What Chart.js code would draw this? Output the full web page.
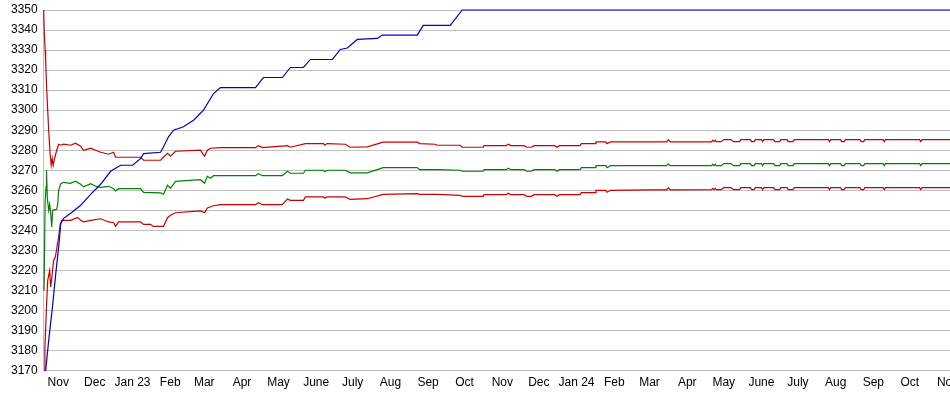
<!DOCTYPE html>
<html>
<head>
<meta charset="utf-8">
<script src="https://cdn.jsdelivr.net/npm/chart.js@4/dist/chart.umd.min.js"></script>
<style>
  body { margin: 0; background: #fff; }
  #wrap { width: 950px; height: 395px; }
</style>
</head>
<body>
<div id="wrap"><canvas id="myChart" width="950" height="395"></canvas></div>
<script>
// x = days since 20 Oct 2022, y = value
let tickDays=[12,42,73,104,132,163,193,224,254,285,316,346,377,407,438,469,498,529,559,590,620,651,682,712,743];
let tickLabels=["Nov","Dec","Jan 23","Feb","Mar","Apr","May","June","July","Aug","Sep","Oct",
                "Nov","Dec","Jan 24","Feb","Mar","Apr","May","June","July","Aug","Sep","Oct","Nov"];

let blueLine=[[1.6,3170],[4.4,3186.7],[7.2,3201.7],[9.9,3218.3],[12.6,3233.3],[14,3243.3],[16.4,3246],
  [22.2,3248.5],[30.4,3252.5],[38.6,3258],[46.8,3263],[55,3269.5],[59.1,3271],[63.2,3272.5],[73.1,3272.5],
  [79.6,3275.8],[82.1,3278.3],[96.1,3279],[98.5,3281.7],[102.6,3286.7],[106.7,3290],[114.9,3291.7],
  [123.2,3295],[131.4,3300],[139.6,3308.3],[145.3,3311.3],[174.1,3311.3],[180.6,3316.3],[196.2,3316.3],
  [202.8,3321.3],[213.5,3321.3],[219.2,3325.3],[237.3,3325.3],[243.8,3330.3],[249.6,3331],[257.8,3335.3],
  [274.2,3335.8],[278.3,3337.5],[307.1,3337.5],[312,3342.3],[334.2,3342.3],[344,3350],[745,3350]];

let upperRed=[[0,3350],[0.4,3340],[1.2,3330],[1.6,3325],[2.5,3310],[3.3,3300],[4.1,3290],[5.3,3278],
  [6.2,3272.5],[7,3276],[7.8,3272.5],[9,3276],[10.7,3280],[12.3,3283],[14,3282.5],[16.4,3283],[22.2,3282.5],
  [26,3283.5],[30.4,3282],[32.8,3280],[38.6,3281],[42.7,3280],[46.8,3279],[53.4,3278],[57.5,3279],
  [59.1,3276.5],[79.6,3276.5],[82.1,3275],[96.1,3275],[98.5,3276.5],[101.8,3278.5],[104.3,3277],
  [108.4,3279.5],[128.9,3280],[132.2,3277],[134.6,3280],[137.1,3281],[145.3,3281.3],[174.1,3281.3],
  [176.5,3282.3],[179.8,3281.3],[200.3,3282.3],[202.8,3281.5],[215.1,3283.3],[230,3283.3],[231,3282.5],
  [233,3283.3],[247.9,3283],[252,3281.5],[266,3281.7],[279.1,3284],[307.1,3284],[309,3283.3],[321.8,3283],
  [323.5,3282.5],[342.4,3282.5],[344,3281.5],[361.2,3281.5],[362,3282.3],[380,3282.3],[382,3283],[384,3282.3],
  [395,3282.3],[397,3281.5],[401,3281.5],[403,3282.3],[420,3282.3],[422,3281.5],[424,3282.3],[440.9,3282.3],
  [442,3283.3],[453.2,3283.3],[454,3284.2],[462,3284.2],[463,3283.3],[466,3284.2],[498,3284.2],[512,3284.2],
  [513.5,3285.2],[515,3284.2],[549,3284.2],[550,3285],[551,3284.3],[552,3285],[553,3284.3],[557,3284.3],
  [559,3285.3],[565,3285.3],[567,3284.3],[572,3284.3],[573,3285.3],[581,3285.3],[582,3284.3],[584,3284.3],
  [585,3285.3],[590,3285.3],[591,3284.3],[592,3285.3],[600,3285.3],[601,3284.3],[605,3284.3],[606,3285.3],
  [611,3285.3],[612,3284.3],[616,3284.3],[617,3285.3],[645,3285.3],[646,3284.3],[647,3285.3],[655,3285.3],
  [656,3284.3],[658,3284.3],[659,3285.3],[671,3285.3],[672,3284.3],[674,3284.3],[675,3285.3],[690,3285.3],
  [691,3284.3],[692,3285.3],[720,3285.3],[721,3284.3],[722,3285.3],[745,3285.3]];

let greenLine=[[0.3,3210],[1.2,3255],[2,3262],[2.3,3270],[3,3256],[4.1,3250],[4.9,3253],[5.7,3249],
  [6.6,3241.7],[7.4,3250],[10.7,3250.5],[11.5,3253],[12.3,3260],[14,3263.3],[16.4,3264],[22,3263.5],
  [26,3264.5],[30.4,3263],[32.8,3261.7],[38.6,3263.3],[42.7,3262],[46.8,3261.5],[53.4,3262],[57.5,3260.8],
  [59.1,3259.7],[61.6,3260.8],[79.6,3260.8],[82.1,3259],[96.1,3258.7],[98.5,3258],[101.8,3262.5],
  [104.3,3261],[108.4,3264.5],[128.9,3265.3],[132.2,3263.5],[134.6,3267],[137.1,3266],[139.6,3267.3],
  [174.1,3267.3],[176.5,3268.3],[179.8,3267.3],[196.2,3267.3],[200.3,3269.5],[202.8,3268.5],[213.5,3268.5],
  [215.1,3270],[230,3270],[231,3269.3],[233,3270],[247.9,3270],[252,3268.7],[266,3268.7],[279.1,3271.3],
  [307.1,3271.3],[309,3270.3],[323.5,3270.3],[342.4,3270],[344,3269.5],[361.2,3269.5],[362,3270.3],
  [380,3270.3],[382,3271],[384,3270.3],[395,3270.3],[397,3269.5],[401,3269.5],[403,3270.3],[420,3270.3],
  [422,3269.5],[424,3270.3],[440.9,3270.3],[442,3271.3],[453.2,3271.3],[454,3272.3],[462,3272.3],
  [463,3271.3],[466,3272.3],[498,3272.3],[512,3272.3],[513.5,3273.2],[515,3272.3],[549,3272.3],[550,3273],
  [551,3272.3],[552,3273],[553,3272.3],[557,3272.3],[559,3273.3],[565,3273.3],[567,3272.3],[572,3272.3],
  [573,3273.3],[581,3273.3],[582,3272.3],[584,3272.3],[585,3273.3],[590,3273.3],[591,3272.3],[592,3273.3],
  [600,3273.3],[601,3272.3],[605,3272.3],[606,3273.3],[611,3273.3],[612,3272.3],[616,3272.3],[617,3273.3],
  [645,3273.3],[646,3272.3],[647,3273.3],[655,3273.3],[656,3272.3],[658,3272.3],[659,3273.3],[671,3273.3],
  [672,3272.3],[674,3272.3],[675,3273.3],[690,3273.3],[691,3272.3],[692,3273.3],[720,3273.3],[721,3272.3],
  [722,3273.3],[745,3273.3]];

let lowerRed=[[0.3,3170],[1,3181.7],[2.5,3205],[3.3,3215],[4.9,3220],[5.7,3211.7],[6.6,3216],[8.2,3225],
  [9.6,3226.7],[10.9,3231.7],[12.3,3236.7],[13.7,3243.3],[15,3245],[22.2,3245],[28,3246.5],[30.4,3245],
  [32.8,3244.2],[38.6,3245],[46.8,3245.8],[53.4,3244.2],[57.5,3243.8],[59.1,3242],[61.6,3244.2],
  [79.6,3244.2],[82.1,3243],[87.8,3243],[90,3242],[98.5,3242],[101.8,3246.3],[104.3,3247.5],[108.4,3248.8],
  [128.9,3249.7],[132.2,3248.8],[134.6,3251.2],[139.6,3252.3],[145.3,3252.8],[174.1,3252.8],[176.5,3253.8],
  [179.8,3252.8],[196.2,3252.8],[200.3,3255.7],[202.8,3255],[213.5,3255],[215.1,3256.7],[230,3256.7],
  [231,3256],[233,3256.7],[247.9,3256.7],[252,3255.5],[266,3255.8],[279.1,3258],[307.1,3258.3],[309,3258],
  [323.5,3258],[342.4,3257.5],[344,3257],[361.2,3257],[362,3257.8],[380,3257.8],[382,3258.5],[384,3257.8],
  [395,3257.8],[397,3257],[401,3257],[403,3257.8],[420,3257.8],[422,3257],[424,3257.8],[440.9,3257.8],
  [442,3258.8],[453.2,3258.8],[454,3260],[462,3260],[463,3259],[466,3260],[498,3260.2],[512,3260.2],
  [513.5,3261.2],[515,3260.2],[549,3260.3],[550,3261],[551,3260.3],[552,3261],[553,3260.3],[557,3260.3],
  [559,3261.3],[565,3261.3],[567,3260.3],[572,3260.3],[573,3261.3],[581,3261.3],[582,3260.3],[584,3260.3],
  [585,3261.3],[590,3261.3],[591,3260.3],[592,3261.3],[600,3261.3],[601,3260.3],[605,3260.3],[606,3261.3],
  [611,3261.3],[612,3260.3],[616,3260.3],[617,3261.3],[645,3261.3],[646,3260.3],[647,3261.3],[655,3261.3],
  [656,3260.3],[658,3260.3],[659,3261.3],[671,3261.3],[672,3260.3],[674,3260.3],[675,3261.3],[690,3261.3],
  [691,3260.3],[692,3261.3],[720,3261.3],[721,3260.3],[722,3261.3],[745,3261.3]];

let yMin=3170, yMax=3350, yStep=10;

let toPts=(arr)=>arr.map((p)=>({x:p[0],y:p[1]}));

let mkSet=(arr,color)=>({
    data: toPts(arr),
    borderColor: color,
    borderWidth: 1.2,
    pointRadius: 0,
    tension: 0,
    fill: false,
    clip: 2
});

var ctx = document.getElementById('myChart').getContext('2d');
new Chart(ctx, {
    type: 'line',
    data: {
        datasets: [
            mkSet(blueLine,'#0000c8'),
            mkSet(upperRed,'#c80000'),
            mkSet(greenLine,'#008000'),
            mkSet(lowerRed,'#c80000')
        ]
    },
    options: {
        responsive: false,
        animation: false,
        layout: { padding: { left: 5, top: 10, right: 0, bottom: 0 } },
        plugins: { legend: { display: false }, tooltip: { enabled: false } },
        scales: {
            x: {
                type: 'linear',
                min: 0,
                max: 745,
                grid: { display: false, drawTicks: false },
                border: { display: true, color: '#c0c0c0' },
                afterBuildTicks: (scale)=>{ scale.ticks = tickDays.map((d)=>({value:d})); },
                afterFit: (scale)=>{ scale.paddingLeft = 0; scale.paddingRight = 0; },
                ticks: {
                    autoSkip: false,
                    maxRotation: 0,
                    padding: 5,
                    color: '#000',
                    font: { family: 'Liberation Sans, Arial', size: 12 },
                    callback: (value, index)=>tickLabels[index]
                }
            },
            y: {
                min: yMin,
                max: yMax,
                grid: { color: '#c0c0c0', drawTicks: false, lineWidth: 1 },
                border: { display: true, color: '#c0c0c0' },
                afterFit: (scale)=>{ scale.paddingTop = 0; scale.paddingBottom = 0; },
                ticks: {
                    stepSize: yStep,
                    padding: 6,
                    color: '#000',
                    font: { family: 'Liberation Sans, Arial', size: 12 },
                    callback: (value)=>String(value)
                }
            }
        }
    }
});
</script>
</body>
</html>
